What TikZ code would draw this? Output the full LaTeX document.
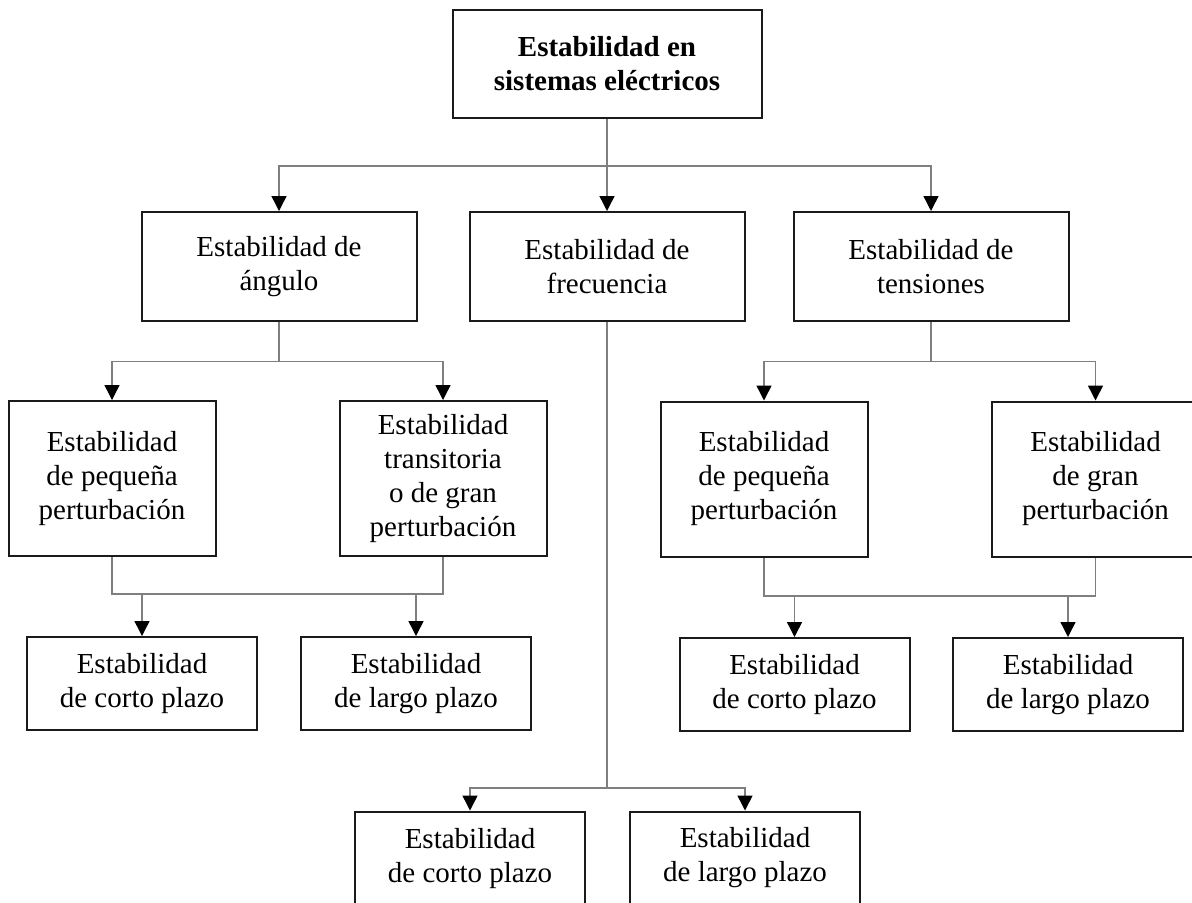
\documentclass[tikz,border=0pt]{standalone}
\usepackage{fontspec}
\setmainfont{Liberation Serif}
\usepackage{tikz}
\usetikzlibrary{arrows.meta}
\definecolor{ink}{HTML}{1A1A1A}
\definecolor{wire}{HTML}{7F7F7F}

\begin{document}
\begin{tikzpicture}[x=0.5pt, y=-0.5pt,
      box/.style={draw=ink, line width=1pt, fill=white, align=center, inner sep=0pt,
                  font=\fontsize{14.5}{17}\selectfont},
      rootbox/.style={box, minimum width=154.5pt, minimum height=54.25pt,
                      font=\fontsize{14.5}{17}\selectfont\bfseries},
      midbox/.style={box, minimum width=137.5pt, minimum height=54.5pt},
      subbox/.style={box, minimum width=103.5pt, minimum height=77.5pt},
      leafbox/.style={box, minimum width=115pt, minimum height=46.5pt},
      link/.style={wire, line width=0.7pt},
      arrow/.style={link, -{Triangle[length=7.5pt, width=7.5pt, color=black, fill=black]}}]
    \useasboundingbox (0,0) rectangle (1192,902);
    % nivel 1 y 2
    \node[rootbox] (root) at (607,63.8)  {Estabilidad en\\sistemas eléctricos};
    \node[midbox]  (ang)  at (279,266.5) {Estabilidad de\\ángulo};
    \node[midbox]  (fre)  at (607,266.5) {Estabilidad de\\frecuencia};
    \node[midbox]  (ten)  at (931,266.5) {Estabilidad de\\tensiones};
    % nivel 3
    \node[subbox] (angP) at (112,478.5)  {Estabilidad\\de pequeña\\perturbación};
    \node[subbox] (angT) at (443,478.5)  {Estabilidad\\transitoria\\o de gran\\perturbación};
    \node[subbox] (tenP) at (764,479)    {Estabilidad\\de pequeña\\perturbación};
    \node[subbox] (tenG) at (1095.5,479) {Estabilidad\\de gran\\perturbación};
    % nivel 4
    \node[leafbox] (angC) at (142,683.5)  {Estabilidad\\de corto plazo};
    \node[leafbox] (angL) at (416,683.5)  {Estabilidad\\de largo plazo};
    \node[leafbox] (tenC) at (794.5,684.5) {Estabilidad\\de corto plazo};
    \node[leafbox] (tenL) at (1068,684.5)  {Estabilidad\\de largo plazo};
    \node[leafbox] (freC) at (470,858)    {Estabilidad\\de corto plazo};
    \node[leafbox] (freL) at (745,858)    {Estabilidad\\de largo plazo};
    % uniones
    \coordinate (rootj) at (607,166);
    \coordinate (angj)  at (279,361.7);
    \coordinate (tenj)  at (931,361.7);
    \coordinate (angk)  at (279,594);
    \coordinate (tenk)  at (931,596);
    \coordinate (frej)  at (607,788);
    % conectores
    \draw[arrow] (root.south) -- (fre.north);
    \draw[arrow] (rootj) -| (ang.north);
    \draw[arrow] (rootj) -| (ten.north);
    \draw[link]  (ang.south) -- (angj);
    \draw[arrow] (angj) -| (angP.north);
    \draw[arrow] (angj) -| (angT.north);
    \draw[link]  (ten.south) -- (tenj);
    \draw[arrow] (tenj) -| (tenP.north);
    \draw[arrow] (tenj) -| (tenG.north);
    \draw[link]  (angP.south) |- (angk) -| (angT.south);
    \draw[arrow] (angC.north |- angk) -- (angC.north);
    \draw[arrow] (angL.north |- angk) -- (angL.north);
    \draw[link]  (tenP.south) |- (tenk) -| (tenG.south);
    \draw[arrow] (tenC.north |- tenk) -- (tenC.north);
    \draw[arrow] (tenL.north |- tenk) -- (tenL.north);
    \draw[link]  (fre.south) -- (frej);
    \draw[arrow] (frej) -| (freC.north);
    \draw[arrow] (frej) -| (freL.north);
  \end{tikzpicture}
\end{document}
